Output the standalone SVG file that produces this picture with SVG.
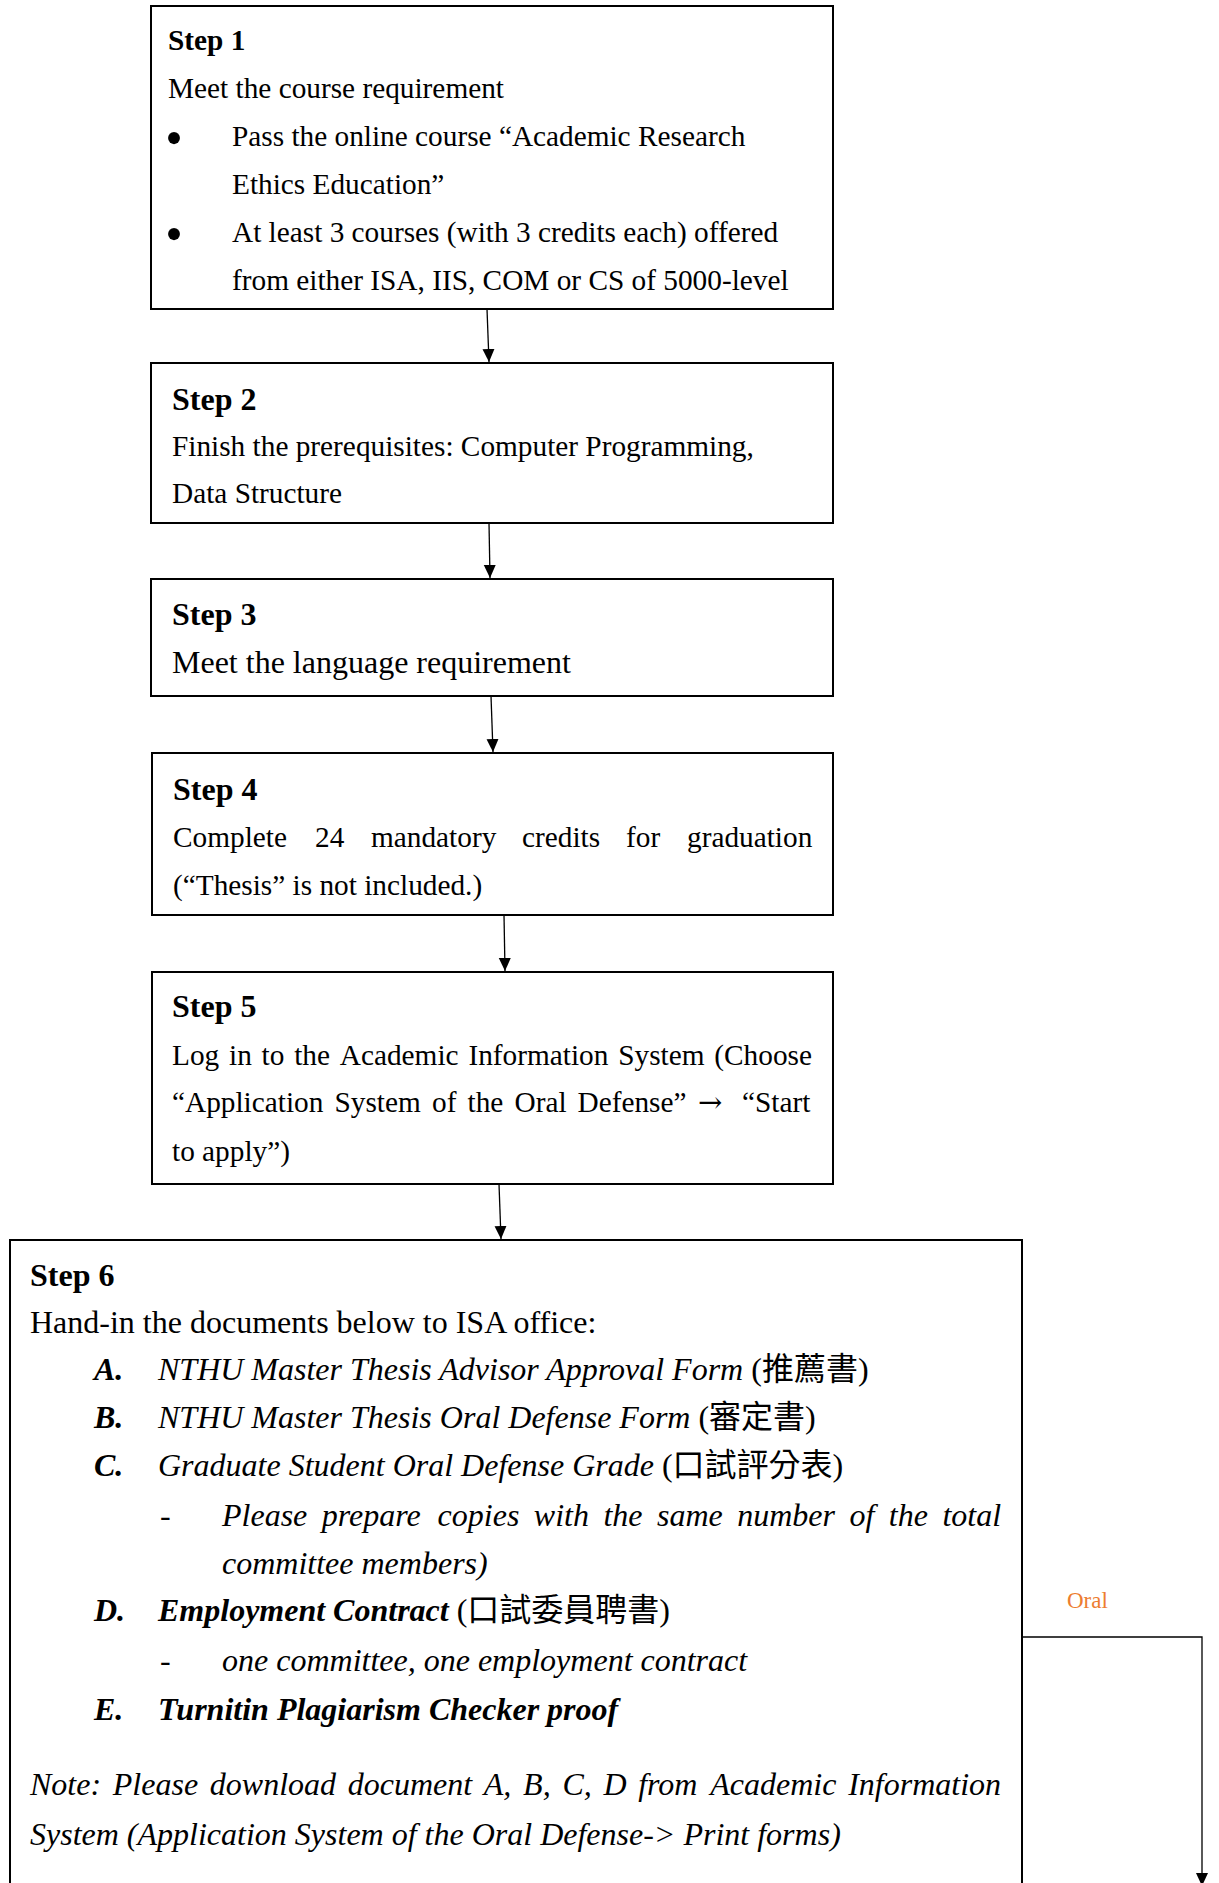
<svg xmlns="http://www.w3.org/2000/svg" width="1219" height="1883" viewBox="0 0 1219 1883">
<defs>
<style>
.box{fill:#fff;stroke:#000;stroke-width:2}
.t{font-family:"Liberation Serif","Noto Sans CJK TC",serif;fill:#000}
.s1{font-size:29.3px}
.s2{font-size:32px}
.b{font-weight:bold}
.i{font-style:italic}
.n{font-style:normal;font-weight:normal}
.bul{font-family:"Liberation Serif",serif;font-size:50px;fill:#000}
.arr{font-family:"DejaVu Serif",serif;font-size:29px}
.con{fill:none;stroke:#000;stroke-width:1.3}
.lbl{font-family:"Liberation Serif",serif;font-size:23px;fill:#ED7D31}
</style>
<marker id="ah" markerUnits="userSpaceOnUse" markerWidth="14" markerHeight="14" viewBox="0 0 14 14" refX="13" refY="7" orient="auto">
<path d="M0,1 L13,7 L0,13 Z" fill="#000"/>
</marker>
</defs>
<rect width="1219" height="1883" fill="#fff"/>

<g id="step1">
<rect class="box" x="151" y="6" width="682" height="303"/>
<text class="t s1 b" x="168" y="50">Step 1</text>
<text class="t s1" x="168" y="98">Meet the course requirement</text>
<text class="bul" x="174" y="155" text-anchor="middle">•</text>
<text class="t s1" x="232" y="146">Pass the online course “Academic Research</text>
<text class="t s1" x="232" y="194">Ethics Education”</text>
<text class="bul" x="174" y="251" text-anchor="middle">•</text>
<text class="t s1" x="232" y="242">At least 3 courses (with 3 credits each) offered</text>
<text class="t s1" x="232" y="290">from either ISA, IIS, COM or CS of 5000-level</text>
</g>

<g id="step2">
<rect class="box" x="151" y="363" width="682" height="160"/>
<text class="t s2 b" x="172" y="410">Step 2</text>
<text class="t s1" x="172" y="456">Finish the prerequisites: Computer Programming,</text>
<text class="t s1" x="172" y="503">Data Structure</text>
</g>

<g id="step3">
<rect class="box" x="151" y="579" width="682" height="117"/>
<text class="t s2 b" x="172" y="625">Step 3</text>
<text class="t s2" x="172" y="673">Meet the language requirement</text>
</g>

<g id="step4">
<rect class="box" x="152" y="753" width="681" height="162"/>
<text class="t s2 b" x="173" y="800">Step 4</text>
<text class="t s1" y="847"><tspan x="173">Complete</tspan><tspan x="315">24</tspan><tspan x="371">mandatory</tspan><tspan x="522">credits</tspan><tspan x="626">for</tspan><tspan x="687">graduation</tspan></text>
<text class="t s1" x="173" y="895">(“Thesis” is not included.)</text>
</g>

<g id="step5">
<rect class="box" x="152" y="972" width="681" height="212"/>
<text class="t s2 b" x="172" y="1017">Step 5</text>
<text class="t s1" y="1065"><tspan x="172">Log</tspan><tspan x="229">in</tspan><tspan x="261.6">to</tspan><tspan x="294.2">the</tspan><tspan x="339.8">Academic</tspan><tspan x="468.4">Information</tspan><tspan x="618.2">System</tspan><tspan x="714.3">(Choose</tspan></text>
<text class="t s1" y="1112"><tspan x="172">“Application</tspan><tspan x="334.5">System</tspan><tspan x="432">of</tspan><tspan x="467.5">the</tspan><tspan x="514.5">Oral</tspan><tspan x="577.5">Defense”</tspan><tspan class="arr" x="698">→</tspan><tspan x="742">“Start</tspan></text>
<text class="t s1" x="172" y="1161">to apply”)</text>
</g>

<g id="step6">
<rect class="box" x="10" y="1240" width="1012" height="700"/>
<text class="t s2 b" x="30" y="1286">Step 6</text>
<text class="t s2" x="30" y="1333">Hand-in the documents below to ISA office:</text>
<text class="t s2 b i" x="94" y="1380">A.</text>
<text class="t s2 i" x="158" y="1380">NTHU Master Thesis Advisor Approval Form<tspan class="n"> (推薦書)</tspan></text>
<text class="t s2 b i" x="94" y="1428">B.</text>
<text class="t s2 i" x="158" y="1428">NTHU Master Thesis Oral Defense Form<tspan class="n"> (審定書)</tspan></text>
<text class="t s2 b i" x="94" y="1476">C.</text>
<text class="t s2 i" x="158" y="1476">Graduate Student Oral Defense Grade<tspan class="n"> (口試評分表)</tspan></text>
<text class="t s2" x="160" y="1526">-</text>
<text class="t s2 i" y="1526"><tspan x="222">Please</tspan><tspan x="321.8">prepare</tspan><tspan x="437.6">copies</tspan><tspan x="533.8">with</tspan><tspan x="603.4">the</tspan><tspan x="657">same</tspan><tspan x="737.2">number</tspan><tspan x="849.4">of</tspan><tspan x="888.8">the</tspan><tspan x="942.4">total</tspan></text>
<text class="t s2 i" x="222" y="1574">committee members)</text>
<text class="t s2 b i" x="94" y="1621">D.</text>
<text class="t s2 b i" x="158" y="1621">Employment Contract<tspan class="n"> (口試委員聘書)</tspan></text>
<text class="t s2" x="160" y="1671">-</text>
<text class="t s2 i" x="222" y="1671">one committee, one employment contract</text>
<text class="t s2 b i" x="94" y="1720">E.</text>
<text class="t s2 b i" x="158" y="1720">Turnitin Plagiarism Checker proof</text>
<text class="t s2 i" y="1795"><tspan x="30">Note:</tspan><tspan x="112.8">Please</tspan><tspan x="209.8">download</tspan><tspan x="347.7">document</tspan><tspan x="483.8">A,</tspan><tspan x="523.1">B,</tspan><tspan x="562.4">C,</tspan><tspan x="603.4">D</tspan><tspan x="638.2">from</tspan><tspan x="710.3">Academic</tspan><tspan x="848.2">Information</tspan></text>
<text class="t s2 i" x="30" y="1845">System (Application System of the Oral Defense-&gt; Print forms)</text>
</g>

<g id="connectors">
<line class="con" x1="487" y1="309" x2="489" y2="362" marker-end="url(#ah)"/>
<line class="con" x1="489" y1="523" x2="490" y2="578" marker-end="url(#ah)"/>
<line class="con" x1="491" y1="696" x2="493" y2="752" marker-end="url(#ah)"/>
<line class="con" x1="504" y1="915" x2="505" y2="971" marker-end="url(#ah)"/>
<line class="con" x1="499" y1="1184" x2="501" y2="1239" marker-end="url(#ah)"/>
<polyline class="con" points="1022,1637 1202,1637 1202,1886" marker-end="url(#ah)"/>
<text class="lbl" x="1067" y="1608">Oral</text>
</g>
</svg>
